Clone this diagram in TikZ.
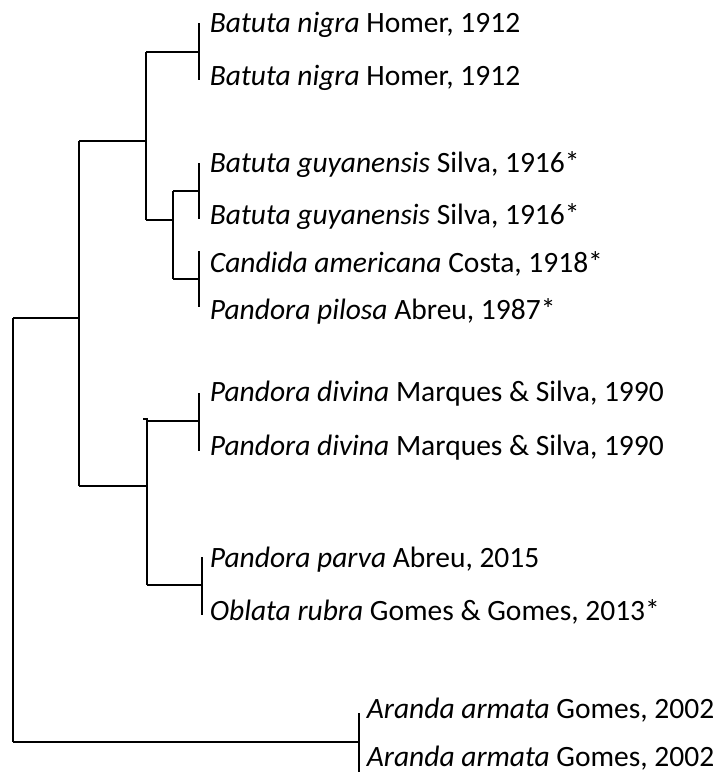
\documentclass[tikz,border=0pt]{standalone}
\usepackage{fontspec}
\setmainfont{Carlito}
\begin{document}
\begin{tikzpicture}[x=1pt,y=-1pt,line width=1.7pt]
 \tikzset{taxon/.style={anchor=base west,inner sep=0pt,font=\fontsize{29.5}{34}\selectfont}}
 \useasboundingbox (0,0) rectangle (718,772);
 % tip labels
 \node (taxon 1) at (209,32) [taxon] {\textit{Batuta nigra} Homer, 1912};
 \node (taxon 2) at (209,85) [taxon] {\textit{Batuta nigra} Homer, 1912};
 \node (taxon 3) at (209,172) [taxon] {\textit{Batuta guyanensis} Silva, 1916*};
 \node (taxon 4) at (209,224) [taxon] {\textit{Batuta guyanensis} Silva, 1916*};
 \node (taxon 5) at (209,272) [taxon] {\textit{Candida americana} Costa, 1918*};
 \node (taxon 6) at (209,319) [taxon] {\textit{Pandora pilosa} Abreu, 1987*};
 \node (taxon 7) at (209,401) [taxon] {\textit{Pandora divina} Marques \& Silva, 1990};
 \node (taxon 8) at (209,455) [taxon] {\textit{Pandora divina} Marques \& Silva, 1990};
 \node (taxon 9) at (209,567) [taxon] {\textit{Pandora parva} Abreu, 2015};
 \node (taxon 10) at (209,620) [taxon] {\textit{Oblata rubra} Gomes \& Gomes, 2013*};
 \node (taxon 11) at (366,718) [taxon] {\textit{Aranda armata} Gomes, 2002};
 \node (taxon 12) at (366,766) [taxon] {\textit{Aranda armata} Gomes, 2002};
 % tree nodes
 \coordinate (root t) at (13,318);
 \coordinate (root b) at (13,742);
 \coordinate (nd a) at (79,318);
 \coordinate (nd a t) at (79,141);
 \coordinate (nd a b) at (79,486);
 \coordinate (nd b) at (146,141);
 \coordinate (nd b t) at (146,52);
 \coordinate (nd b b) at (146,220);
 \coordinate (nd c) at (173,220);
 \coordinate (nd c t) at (173,191);
 \coordinate (nd c b) at (173,279);
 \coordinate (nd d) at (147,486);
 \coordinate (nd d t) at (147,421);
 \coordinate (nd d b) at (147,585);
 \coordinate (tick d) at (143,419);
 \coordinate (tip 1) at (199,52);
 \coordinate (tip 1 t) at (199,23);
 \coordinate (tip 1 b) at (199,80);
 \coordinate (tip 2) at (199,191);
 \coordinate (tip 2 t) at (199,163);
 \coordinate (tip 2 b) at (199,219);
 \coordinate (tip 3) at (199,279);
 \coordinate (tip 3 t) at (199,251);
 \coordinate (tip 3 b) at (199,307);
 \coordinate (tip 4) at (199,421);
 \coordinate (tip 4 t) at (199,393);
 \coordinate (tip 4 b) at (199,451);
 \coordinate (tip 5) at (202,585);
 \coordinate (tip 5 t) at (202,557);
 \coordinate (tip 5 b) at (202,615);
 \coordinate (tip 6) at (359,742);
 \coordinate (tip 6 t) at (359,713);
 \coordinate (tip 6 b) at (359,772);
 % branches
 \draw (root t) -- (root b);
 \draw (root t) -- (nd a);
 \draw (root b) -- (tip 6);
 \draw (nd a t) -- (nd a b);
 \draw (nd a t) -- (nd b);
 \draw (nd a b) -- (nd d);
 \draw (nd b t) -- (nd b b);
 \draw (nd b t) -- (tip 1);
 \draw (nd b b) -- (nd c);
 \draw (nd c t) -- (nd c b);
 \draw (nd c t) -- (tip 2);
 \draw (nd c b) -- (tip 3);
 \draw (tick d) -- (nd d t |- tick d) -- (nd d b);
 \draw (nd d t) -- (tip 4);
 \draw (nd d b) -- (tip 5);
 \draw (tip 1 t) -- (tip 1 b);
 \draw (tip 2 t) -- (tip 2 b);
 \draw (tip 3 t) -- (tip 3 b);
 \draw (tip 4 t) -- (tip 4 b);
 \draw (tip 5 t) -- (tip 5 b);
 \draw (tip 6 t) -- (tip 6 b);
\end{tikzpicture}
\end{document}
